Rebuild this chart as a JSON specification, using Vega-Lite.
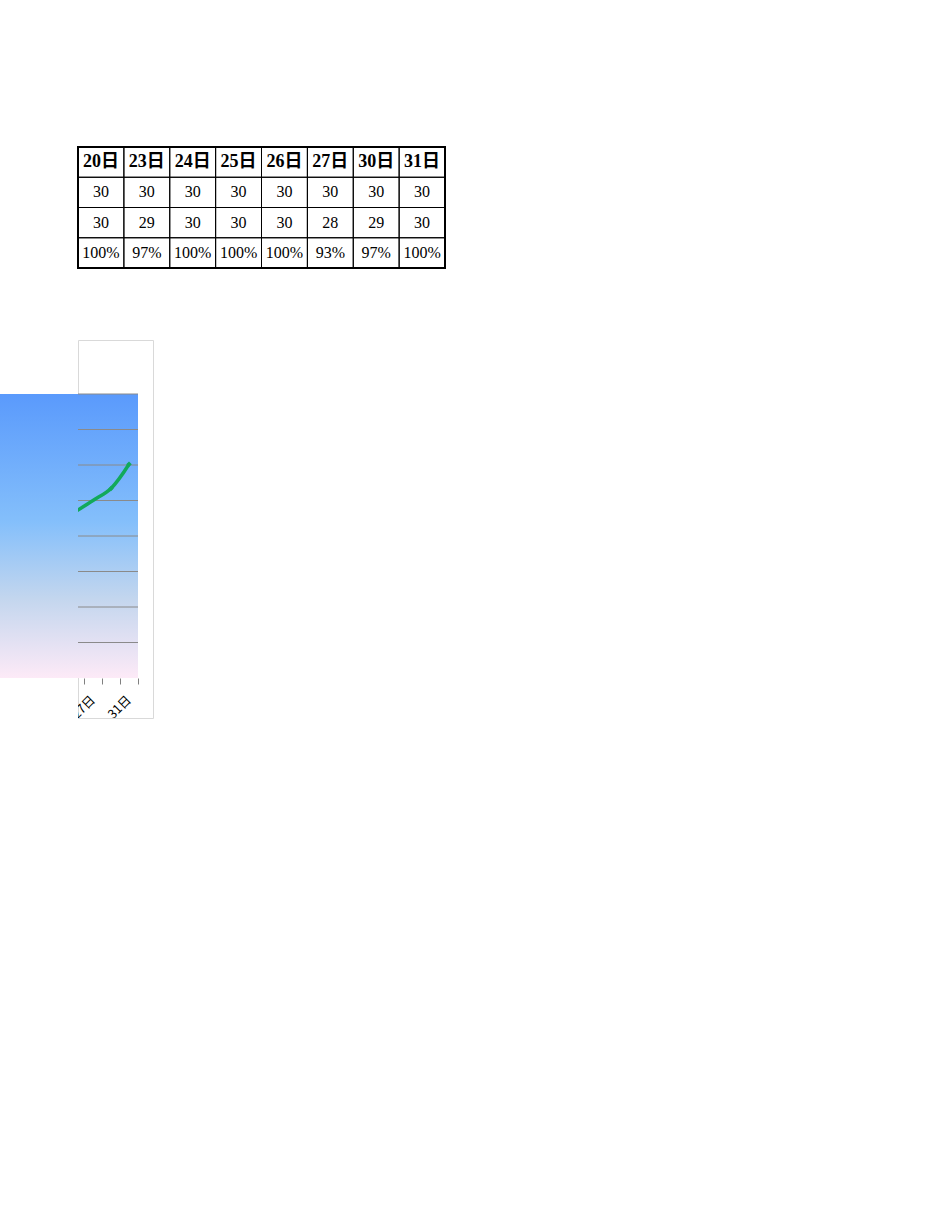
{
  "$schema": "https://vega.github.io/schema/vega-lite/v6.json",
  "background": "white",
  "padding": {"left": 0, "top": 146, "right": 0, "bottom": 0},
  "bounds": "flush",
  "spacing": 72,
  "config": {"view": {"stroke": null}},
  "datasets": {
    "days": [
      {"date": "20日", "应到": 30, "实到": 30, "出勤率": "100%"},
      {"date": "23日", "应到": 30, "实到": 29, "出勤率": "97%"},
      {"date": "24日", "应到": 30, "实到": 30, "出勤率": "100%"},
      {"date": "25日", "应到": 30, "实到": 30, "出勤率": "100%"},
      {"date": "26日", "应到": 30, "实到": 30, "出勤率": "100%"},
      {"date": "27日", "应到": 30, "实到": 28, "出勤率": "93%"},
      {"date": "30日", "应到": 30, "实到": 29, "出勤率": "97%"},
      {"date": "31日", "应到": 30, "实到": 30, "出勤率": "100%"}
    ],
    "trend": [
      {"date": "26日", "value": 23.4},
      {"date": "27日", "value": 25.0},
      {"date": "30日", "value": 26.7},
      {"date": "31日", "value": 30.1}
    ],
    "grid": [
      {"g": 5}, {"g": 10}, {"g": 15}, {"g": 20},
      {"g": 25}, {"g": 30}, {"g": 35}, {"g": 40}
    ]
  },
  "vconcat": [
    {
      "width": 445,
      "height": 121,
      "data": {"name": "days"},
      "encoding": {
        "x": {
          "field": "date",
          "type": "nominal",
          "sort": null,
          "scale": {"type": "band", "range": [78, 445], "paddingInner": 0, "paddingOuter": 0},
          "axis": null
        }
      },
      "layer": [
        {
          "transform": [{"fold": ["应到", "实到", "出勤率"], "as": ["row", "v"]}],
          "mark": {"type": "rect", "filled": false, "color": "#000", "strokeWidth": 1},
          "encoding": {
            "y": {
              "field": "row",
              "type": "nominal",
              "scale": {"domain": ["日期", "应到", "实到", "出勤率"], "paddingInner": 0, "paddingOuter": 0},
              "axis": null
            }
          }
        },
        {
          "mark": {"type": "rect", "filled": false, "color": "#000", "strokeWidth": 1},
          "encoding": {"y": {"datum": "日期", "type": "nominal"}}
        },
        {
          "data": {"values": [{}]},
          "mark": {"type": "rect", "filled": false, "color": "#000", "strokeWidth": 2},
          "encoding": {
            "x": {"datum": "20日", "bandPosition": 0},
            "x2": {"datum": "31日", "bandPosition": 1},
            "y": {"datum": "日期", "type": "nominal", "bandPosition": 0},
            "y2": {"datum": "出勤率", "bandPosition": 1}
          }
        },
        {
          "mark": {"type": "text", "font": "Liberation Serif, Noto Sans CJK SC", "fontSize": 18, "fontWeight": "bold", "color": "#000"},
          "encoding": {"y": {"datum": "日期", "type": "nominal"}, "text": {"field": "date"}}
        },
        {
          "mark": {"type": "text", "font": "Liberation Serif, Noto Sans CJK SC", "fontSize": 16, "color": "#000"},
          "encoding": {"y": {"datum": "应到", "type": "nominal"}, "text": {"field": "应到"}}
        },
        {
          "mark": {"type": "text", "font": "Liberation Serif, Noto Sans CJK SC", "fontSize": 16, "color": "#000"},
          "encoding": {"y": {"datum": "实到", "type": "nominal"}, "text": {"field": "实到"}}
        },
        {
          "mark": {"type": "text", "font": "Liberation Serif, Noto Sans CJK SC", "fontSize": 16, "color": "#000"},
          "encoding": {"y": {"datum": "出勤率", "type": "nominal"}, "text": {"field": "出勤率"}}
        }
      ]
    },
    {
      "bounds": "flush",
      "spacing": 0,
      "hconcat": [
        {
          "width": 78,
          "height": 378,
          "data": {"name": "days"},
          "mark": {
            "type": "rect",
            "clip": true,
            "fill": {
              "gradient": "linear", "x1": 0, "y1": 0, "x2": 0, "y2": 1,
              "stops": [
                {"offset": 0, "color": "#5a9afc"},
                {"offset": 0.45, "color": "#84bffb"},
                {"offset": 0.72, "color": "#c3d6ee"},
                {"offset": 1, "color": "#fdeaf7"}
              ]
            }
          },
          "encoding": {
            "x": {
              "field": "date",
              "type": "nominal",
              "sort": null,
              "scale": {"type": "band", "range": [-6, 138], "paddingInner": 0, "paddingOuter": 0},
              "axis": null
            },
            "y": {"datum": 0, "type": "quantitative", "scale": {"domain": [0, 40], "range": [338, 54]}, "axis": null},
            "y2": {"datum": 40}
          }
        },
        {
          "width": 75,
          "height": 378,
          "view": {"stroke": "#d9d9d9"},
          "encoding": {
            "x": {
              "field": "date",
              "type": "nominal",
              "sort": null,
              "scale": {
                "type": "band",
                "domain": ["20日", "23日", "24日", "25日", "26日", "27日", "30日", "31日"],
                "range": [-84, 60],
                "paddingInner": 0,
                "paddingOuter": 0
              },
              "axis": {
                "values": ["27日", "30日", "31日"],
                "labels": false,
                "domain": false,
                "grid": false,
                "ticks": true,
                "tickBand": "extent",
                "tickColor": "#808080",
                "tickSize": 6,
                "offset": -40,
                "title": null
              }
            }
          },
          "layer": [
            {
              "data": {"name": "days"},
              "mark": {
                "type": "rect",
                "clip": true,
                "fill": {
                  "gradient": "linear", "x1": 0, "y1": 0, "x2": 0, "y2": 1,
                  "stops": [
                    {"offset": 0, "color": "#5a9afc"},
                    {"offset": 0.45, "color": "#84bffb"},
                    {"offset": 0.72, "color": "#c3d6ee"},
                    {"offset": 1, "color": "#fdeaf7"}
                  ]
                }
              },
              "encoding": {
                "y": {"datum": 0, "type": "quantitative", "scale": {"domain": [0, 40], "range": [338, 54]}, "axis": null},
                "y2": {"datum": 40}
              }
            },
            {
              "data": {"name": "grid"},
              "mark": {"type": "rule", "clip": true, "color": "#8a8a8a", "strokeWidth": 1},
              "encoding": {
                "x": {"datum": "20日", "bandPosition": 0},
                "x2": {"datum": "31日", "bandPosition": 1},
                "y": {"field": "g", "type": "quantitative"}
              }
            },
            {
              "data": {"name": "trend"},
              "mark": {"type": "line", "clip": true, "interpolate": "catmull-rom", "color": "#12a95b", "strokeWidth": 3.5},
              "encoding": {"y": {"field": "value", "type": "quantitative"}}
            },
            {
              "data": {"name": "trend"},
              "transform": [{"filter": "datum.date == '30日' || datum.date == '31日'"}],
              "mark": {"type": "point", "clip": true, "shape": "diamond", "filled": true, "size": 30, "color": "#12a95b", "opacity": 1},
              "encoding": {"y": {"field": "value", "type": "quantitative"}}
            },
            {
              "data": {"name": "days"},
              "transform": [{"filter": "datum.date == '27日' || datum.date == '31日'"}],
              "mark": {
                "type": "text",
                "clip": true,
                "angle": -45,
                "align": "right",
                "baseline": "middle",
                "yOffset": 20,
                "font": "Noto Sans CJK SC",
                "fontSize": 12.5,
                "color": "#000"
              },
              "encoding": {
                "y": {"datum": 0, "type": "quantitative"},
                "text": {"field": "date"}
              }
            }
          ]
        }
      ]
    }
  ]
}
